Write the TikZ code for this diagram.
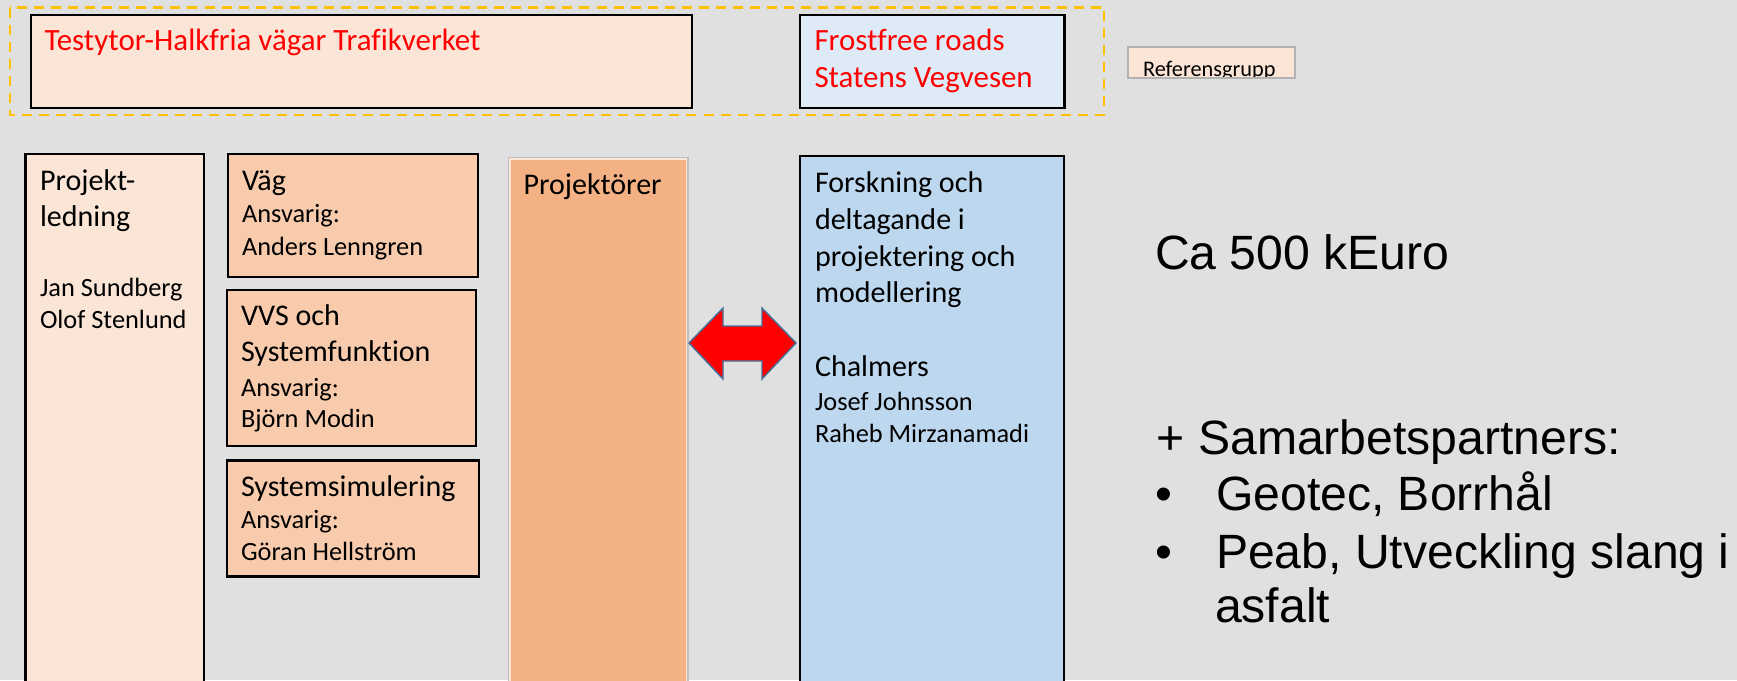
\documentclass[tikz,border=0pt]{standalone}
\usepackage{fontspec}
\setmainfont{Carlito}[Ligatures=NoCommon]
\newfontfamily\arialf{Liberation Sans}
\definecolor{bgc}{HTML}{E0E0E0}
\definecolor{peachl}{HTML}{FBE5D6}
\definecolor{peachm}{HTML}{F8CBAD}
\definecolor{peachd}{HTML}{F4B183}
\definecolor{bluel}{HTML}{DEEBF7}
\definecolor{bluem}{HTML}{BDD7EE}
\definecolor{goldc}{HTML}{FFC000}
\definecolor{arrowb}{HTML}{41719C}
\tikzset{
  box/.style={draw=black, line width=1.5pt},
  txt/.style={anchor=base west, inner sep=0pt, outer sep=0pt},
  bigt/.style={txt, font=\fontsize{17.1}{20}\selectfont},
  smallt/.style={txt, font=\fontsize{15}{18}\selectfont},
  redt/.style={txt, font=\fontsize{17.6}{21}\selectfont, text={rgb,255:red,255;green,0;blue,0}},
  ariat/.style={txt, font=\arialf\fontsize{27.4}{32}\selectfont},
}
\begin{document}
\begin{tikzpicture}[x=0.02cm,y=-0.02cm]
\fill[bgc] (0,0) rectangle (1737,680);
\useasboundingbox (0,0) rectangle (1737,680);
\begin{scope}
\clip (0,0) rectangle (1737,680);
% top group
\draw[goldc, line width=1.2pt, dash pattern=on 5.7pt off 4pt] (10,7.5) rectangle (1104,115);
\draw[box, fill=peachl] (31,15) rectangle (692,108);
\node[redt] (t1) at (44.5,50.7) {Testytor-Halkfria vägar Trafikverket};
\draw[box, fill=bluel] (800,15) rectangle (1064.5,108);
\node[redt] (t2) at (814.5,50.7) {Frostfree roads};
\node[redt] (t3) at (814.5,87.3) {Statens Vegvesen};
% Referensgrupp
\begin{scope}
\clip (1128,47) rectangle (1295,78.3);
\fill[peachl] (1128,47) rectangle (1295,78.3);
\node[txt, font=\fontsize{12.7}{15}\selectfont] (ref) at (1143,76.7) {Referensgrupp};
\end{scope}
\draw[black!30, line width=1pt] (1128,47) rectangle (1295,78.3);
% Projektledning
\draw[box, fill=peachl] (25.7,154) rectangle (204,700);
\node[bigt] (pl1) at (40,190) {Projekt-};
\node[bigt] (pl2) at (40,226) {ledning};
\node[smallt] (pl3) at (40,296.7) {Jan Sundberg};
\node[smallt] (pl4) at (40,328) {Olof Stenlund};
% Vag
\draw[box, fill=peachm] (228,154) rectangle (478,277);
\node[bigt] (v1) at (242,190) {Väg};
\node[smallt] (v2) at (242,222.7) {Ansvarig:};
\node[smallt] (v3) at (242,255) {Anders Lenngren};
% VVS
\draw[box, fill=peachm] (227,290) rectangle (476,446);
\node[bigt] (w1) at (241,325.7) {VVS och};
\node[bigt] (w2) at (241,361.7) {Systemfunktion};
\node[smallt] (w3) at (241,396) {Ansvarig:};
\node[smallt] (w4) at (241,427) {Björn Modin};
% Systemsimulering
\draw[box, fill=peachm] (227,460.7) rectangle (479,576.7);
\node[bigt] (s1) at (241,496) {Systemsimulering};
\node[smallt] (s2) at (241,528.3) {Ansvarig:};
\node[smallt] (s3) at (241,560) {Göran Hellström};
% Projektorer
\draw[black!25, line width=0.6pt, fill=peachd] (508.5,157.5) rectangle (688,700);
\draw[peachl, line width=0.8pt] (509.8,158.8) rectangle (686.7,700);
\node[bigt] (p1) at (523.5,194) {Projektörer};
% Forskning
\draw[box, fill=bluem] (800,156) rectangle (1064,700);
\node[bigt] (f1) at (815,192.7) {Forskning och};
\node[bigt] (f2) at (815,229) {deltagande i};
\node[bigt] (f3) at (815,266) {projektering och};
\node[bigt] (f4) at (815,302.7) {modellering};
\node[bigt] (f5) at (815,376.7) {Chalmers};
\node[smallt] (f6) at (815,410) {Josef Johnsson};
\node[smallt] (f7) at (815,442.7) {Raheb Mirzanamadi};
% double arrow
\draw[arrowb, line width=0.8pt, fill=red, line join=miter]
  (689,343) -- (723,308) -- (723,326) -- (762,326) -- (762,308) -- (796,343)
  -- (762,379) -- (762,361) -- (723,361) -- (723,379) -- cycle;
% right text
\node[ariat] (r1) at (1155,269) {Ca 500 kEuro};
\node[ariat] (r2) at (1156.7,454) {+ Samarbetspartners:};
\node[ariat] (b1) at (1155,510) {•};
\node[ariat] (r3) at (1216,510) {Geotec, Borrhål};
\node[ariat] (b2) at (1155,568) {•};
\node[ariat] (r4) at (1216,568) {Peab, Utveckling slang i};
\node[ariat] (r5) at (1215,622.7) {asfalt};
\end{scope}
\end{tikzpicture}
\end{document}
